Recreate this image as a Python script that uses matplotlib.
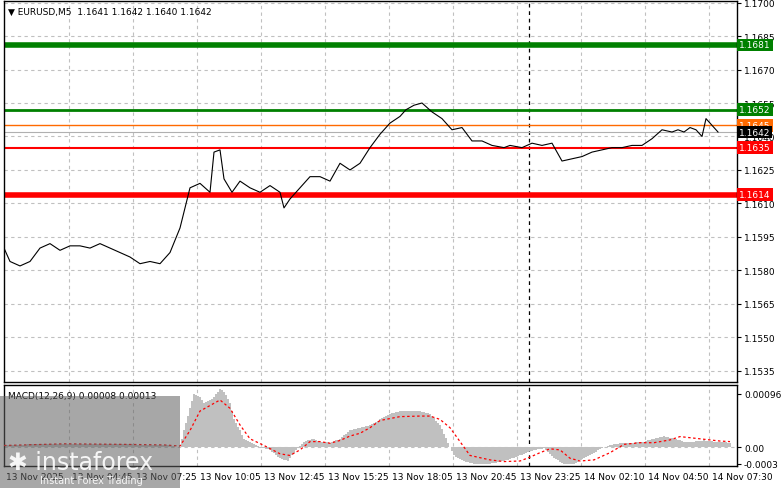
import matplotlib
matplotlib.use("Agg")
import matplotlib.pyplot as plt
import numpy as np

W, H = 781, 489

# price path: bar index -> close
bar_idx = [0, 3, 8, 13, 18, 23, 28, 33, 38, 43, 48, 53, 58, 63, 68, 73, 78, 83, 88, 93,
           98, 103, 105, 108, 110, 114, 118, 123, 128, 133, 138, 140, 143, 148, 153, 158,
           163, 168, 173, 178, 183, 188, 193, 198, 201, 205, 209, 214, 219, 224, 229, 234,
           239, 244, 250, 253, 259, 264, 269, 274, 279, 284, 289, 294, 299, 304, 309, 314,
           319, 324, 329, 334, 337, 340, 343, 346, 349, 351, 354, 357]
close = [1.1590, 1.1584, 1.1582, 1.1584, 1.1590, 1.1592, 1.1589, 1.1591, 1.1591, 1.1590,
         1.1592, 1.1590, 1.1588, 1.1586, 1.1583, 1.1584, 1.1583, 1.1588, 1.1599, 1.1617,
         1.1619, 1.1615, 1.1633, 1.1634, 1.1621, 1.1615, 1.1620, 1.1617, 1.1615, 1.1618,
         1.1615, 1.1608, 1.1612, 1.1617, 1.1622, 1.1622, 1.1620, 1.1628, 1.1625, 1.1628,
         1.1635, 1.1641, 1.1646, 1.1649, 1.1652, 1.1654, 1.1655, 1.1651, 1.1648, 1.1643,
         1.1644, 1.1638, 1.1638, 1.1636, 1.1635, 1.1636, 1.1635, 1.1637, 1.1636, 1.1637,
         1.1629, 1.1630, 1.1631, 1.1633, 1.1634, 1.1635, 1.1635, 1.1636, 1.1636, 1.1639,
         1.1643, 1.1642, 1.1643, 1.1642, 1.1644, 1.1643, 1.1640, 1.1648, 1.1645, 1.1642]

# MACD histogram and signal (x in bars, values in 1e-4)
hist_idx = [0, 20, 40, 60, 80, 88, 90, 93, 95, 98, 100, 103, 105, 108, 110, 113, 115, 118,
            120, 123, 128, 133, 138, 142, 145, 150, 155, 158, 163, 168, 173, 178, 183, 188,
            193, 198, 203, 208, 213, 218, 223, 225, 230, 235, 243, 250, 258, 265, 270, 275,
            280, 285, 290, 295, 300, 305, 310, 315, 320, 325, 330, 335, 340, 345, 350, 355, 363]
hist = [0.3, 0.6, 0.6, 0.5, 0.4, 0.0, 3.0, 7.0, 9.5, 9.0, 8.0, 8.5, 9.0, 10.5, 10.0, 8.0,
        5.0, 3.0, 1.5, 1.0, 0.0, -0.5, -2.0, -2.5, -1.0, 1.0, 1.5, 1.0, 0.8, 1.5, 3.0, 3.5,
        4.0, 5.0, 6.0, 6.5, 6.5, 6.5, 6.0, 4.0, 0.0, -1.5, -2.5, -3.0, -3.0, -2.5, -1.5,
        -0.5, -0.2, -2.0, -3.0, -3.0, -2.0, -1.0, 0.0, 0.5, 0.8, 0.8, 1.0, 1.5, 2.0, 1.5,
        1.0, 1.0, 1.2, 1.0, 0.8]
sig_idx = [0, 30, 60, 80, 88, 93, 98, 103, 108, 113, 118, 123, 130, 138, 143, 148, 153, 158,
           163, 168, 173, 178, 183, 188, 198, 208, 213, 218, 223, 228, 233, 243, 250, 258,
           263, 268, 273, 278, 283, 288, 295, 303, 310, 318, 325, 333, 338, 348, 358, 363]
signal = [0.3, 0.6, 0.5, 0.4, 0.2, 3.0, 6.5, 7.5, 8.5, 7.0, 4.0, 1.5, 0.3, -1.2, -1.5,
          -0.5, 1.0, 1.0, 0.7, 1.2, 2.0, 2.5, 3.5, 4.8, 5.5, 5.6, 5.6, 5.0, 3.5, 1.0, -1.5,
          -2.3, -2.6, -2.5, -1.8, -1.0, -0.3, -0.5, -2.0, -2.5, -2.3, -1.0, 0.5, 0.8, 0.8,
          1.3, 1.9, 1.5, 1.1, 1.0]

levels = [(1.1681, "#008000", 4, "1.1681"), (1.1652, "#008000", 2, "1.1652"),
          (1.1645, "#ff6a00", 1, "1.1645"), (1.1635, "#ff0000", 1.5, "1.1635"),
          (1.1614, "#ff0000", 4, "1.1614")]
price_ticks = [1.1700, 1.1685, 1.1670, 1.1655, 1.1640, 1.1625, 1.1610, 1.1595, 1.1580,
               1.1565, 1.1550, 1.1535]
time_labels = ["13 Nov 2025", "13 Nov 04:45", "13 Nov 07:25", "13 Nov 10:05", "13 Nov 12:45",
               "13 Nov 15:25", "13 Nov 18:05", "13 Nov 20:45", "13 Nov 23:25", "14 Nov 02:10",
               "14 Nov 04:50", "14 Nov 07:30"]

fig = plt.figure(figsize=(W / 100, H / 100), dpi=100)
L, R = 4 / W, 737 / W
ax = fig.add_axes([L, 1 - 383 / H, R - L, 381 / H])
mx = fig.add_axes([L, 1 - 467 / H, R - L, 81 / H])
xmax = 366.5
for a in (ax, mx):
    a.set_xlim(0, xmax)
    for s in a.spines.values():
        s.set_color("black")
        s.set_linewidth(1)
    a.tick_params(left=False, bottom=False, labelleft=False, labelbottom=False,
                  right=True, labelright=True, direction="out", length=3, pad=2,
                  labelsize=6.5)
    for gx in np.arange(32.5, xmax, 32):
        a.axvline(gx, color="#c0c0c0", ls=(0, (3, 3)), lw=0.8, zorder=0)
    a.axvline(262.5, color="black", ls=(0, (3, 3)), lw=0.9, zorder=1)

ax.set_ylim(1.1530, 1.17007)
ax.set_yticks(price_ticks)
ax.set_yticklabels([f"{t:.4f}" for t in price_ticks])
for t in price_ticks:
    ax.axhline(t, color="#c0c0c0", ls=(0, (3, 3)), lw=0.8, zorder=0)
ax.axhline(1.1642, color="#b0b0b0", lw=0.8)
for val, col, lw, lab in levels:
    ax.axhline(val, color=col, lw=lw, zorder=2)
    ax.text(1.003, val, lab, transform=ax.get_yaxis_transform(), fontsize=6.5, color="white",
            va="center", ha="left", bbox=dict(boxstyle="square,pad=0.2", fc=col, ec="none"),
            zorder=5)
ax.text(1.003, 1.1642, "1.1642", transform=ax.get_yaxis_transform(), fontsize=6.5,
        color="white", va="center", ha="left",
        bbox=dict(boxstyle="square,pad=0.2", fc="black", ec="none"), zorder=6)
ax.plot(bar_idx, close, color="black", lw=0.8, zorder=3)
ax.text(0.006, 0.985, "▼ EURUSD,M5  1.1641 1.1642 1.1640 1.1642", transform=ax.transAxes,
        fontsize=6.5, va="top", ha="left")

mx.set_ylim(-0.00034, 0.00112)
mx.set_yticks([0.00096, 0.0, -0.0003])
mx.set_yticklabels(["0.00096", "0.00", "-0.0003"])
mx.axhline(0, color="#c0c0c0", ls=(0, (3, 3)), lw=0.8, zorder=0)
hx = np.arange(0, 364)
hv = np.interp(hx, hist_idx, hist) * 1e-4
mx.bar(hx, hv, width=1.0, color="#c0c0c0", zorder=2)
mx.plot(sig_idx, np.array(signal) * 1e-4, color="red", ls=(0, (2, 2)), lw=0.9, zorder=3)
mx.text(0.006, 0.93, "MACD(12,26,9) 0.00008 0.00013", transform=mx.transAxes,
        fontsize=6.5, va="top", ha="left")

for i, lab in enumerate(time_labels):
    xp = 4 + 2 * (32 * i + 0.5) + 3 if i else 6
    fig.text(xp / W, 1 - 478 / H, lab, fontsize=6.5, va="center", ha="left")

# watermark
fig.patches.append(plt.Rectangle((0, 0), 180 / W, 92 / H, transform=fig.transFigure,
                                 fc="#606060", alpha=0.55, ec="none", zorder=10))
fig.text(8 / W, 1 - 463 / H, "✱ instaforex", fontsize=17, color="white", alpha=0.9,
         va="center", ha="left", zorder=11)
fig.text(40 / W, 1 - 481 / H, "Instant Forex Trading", fontsize=7, color="white",
         alpha=0.9, va="center", ha="left", zorder=11)

fig.savefig("out.png", dpi=100)
